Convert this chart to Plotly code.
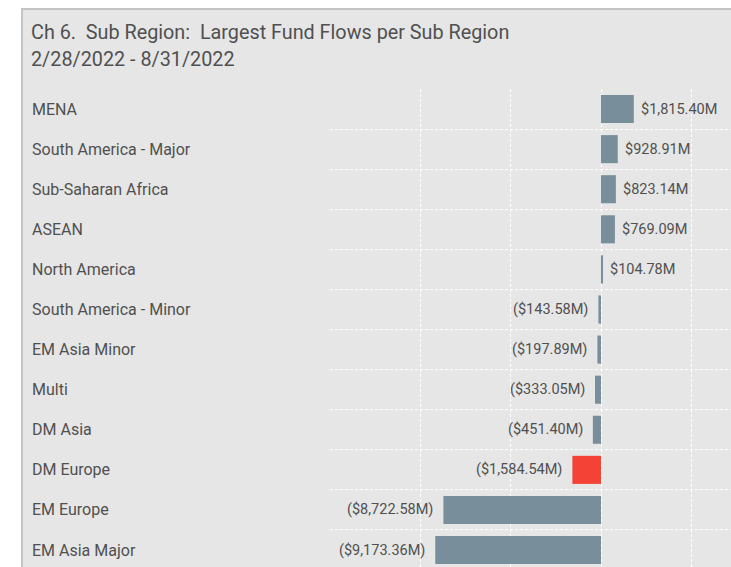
import plotly.graph_objects as go

categories = ["MENA", "South America - Major", "Sub-Saharan Africa", "ASEAN",
              "North America", "South America - Minor", "EM Asia Minor", "Multi",
              "DM Asia", "DM Europe", "EM Europe", "EM Asia Major"]
flows_musd = [1815.40, 928.91, 823.14, 769.09, 104.78, -143.58, -197.89,
              -333.05, -451.40, -1584.54, -8722.58, -9173.36]
highlight = "DM Europe"

title_line1 = "Ch 6.\u00a0 Sub Region:\u00a0 Largest Fund Flows per Sub Region"
title_line2 = "2/28/2022 - 8/31/2022"

BAR = "#788f9b"
RED = "#f44336"
TXT = "#505050"
PANEL = "#e6e6e6"
FONT = "Roboto"

W, H = 731, 567
L, T = 330, 89
PW, PH = W - L, H - T
ROW = 40.09


def fmt(v):
    s = "${:,.2f}M".format(abs(v))
    return s if v >= 0 else "(" + s + ")"


def px_x(px):
    return (px - L) / PW


def px_y(py):
    return (H - py) / PH


colors = [RED if c == highlight else BAR for c in categories]

fig = go.Figure(go.Bar(
    x=flows_musd, y=categories, orientation="h",
    marker=dict(color=colors, line=dict(width=0)),
    hoverinfo="skip",
))

annotations = []
for c, v in zip(categories, flows_musd):
    annotations.append(dict(
        x=v, y=c, xref="x", yref="y", text=fmt(v), showarrow=False,
        xanchor="left" if v >= 0 else "right",
        xshift=5 if v >= 0 else -8,
        font=dict(family=FONT, size=14.5, color=TXT),
    ))
    annotations.append(dict(
        x=px_x(30), y=c, xref="paper", yref="y", text=c, showarrow=False,
        xanchor="left", font=dict(family=FONT, size=16, color=TXT),
    ))

annotations.append(dict(x=px_x(29), y=px_y(33), xref="paper", yref="paper",
                        text=title_line1, showarrow=False, xanchor="left",
                        yanchor="middle",
                        font=dict(family=FONT, size=19.8, color=TXT)))
annotations.append(dict(x=px_x(29), y=px_y(60), xref="paper", yref="paper",
                        text=title_line2, showarrow=False, xanchor="left",
                        yanchor="middle",
                        font=dict(family=FONT, size=19.8, color=TXT)))

shapes = [dict(type="rect", xref="paper", yref="paper",
               x0=px_x(22), x1=px_x(W + 20), y0=px_y(H + 20), y1=px_y(9),
               fillcolor=PANEL, line=dict(color="#c4c4c4", width=2),
               layer="below")]

top_idx = -0.5
bottom_idx = top_idx + PH / ROW

fig.update_layout(
    width=W, height=H,
    margin=dict(l=L, r=0, t=T, b=0, pad=0),
    paper_bgcolor="white", plot_bgcolor="rgba(0,0,0,0)",
    bargap=0.3, showlegend=False,
    annotations=annotations, shapes=shapes,
    xaxis=dict(range=[-15000, (W - 601) / (271 / 15000)], tick0=0, dtick=5000,
               showticklabels=False, ticks="", zeroline=False,
               showgrid=True, gridcolor="white", gridwidth=1,
               griddash="3px,2px", fixedrange=True),
    yaxis=dict(range=[bottom_idx, top_idx], type="category",
               showticklabels=False, ticks="", tickson="boundaries",
               showgrid=True, gridcolor="white", gridwidth=1,
               griddash="3px,2px", zeroline=False, fixedrange=True),
)

fig.write_html(
    "out.html",
    config={"displayModeBar": False},
    post_script="document.body.style.margin='0px';"
                "document.body.style.overflow='hidden';",
)
